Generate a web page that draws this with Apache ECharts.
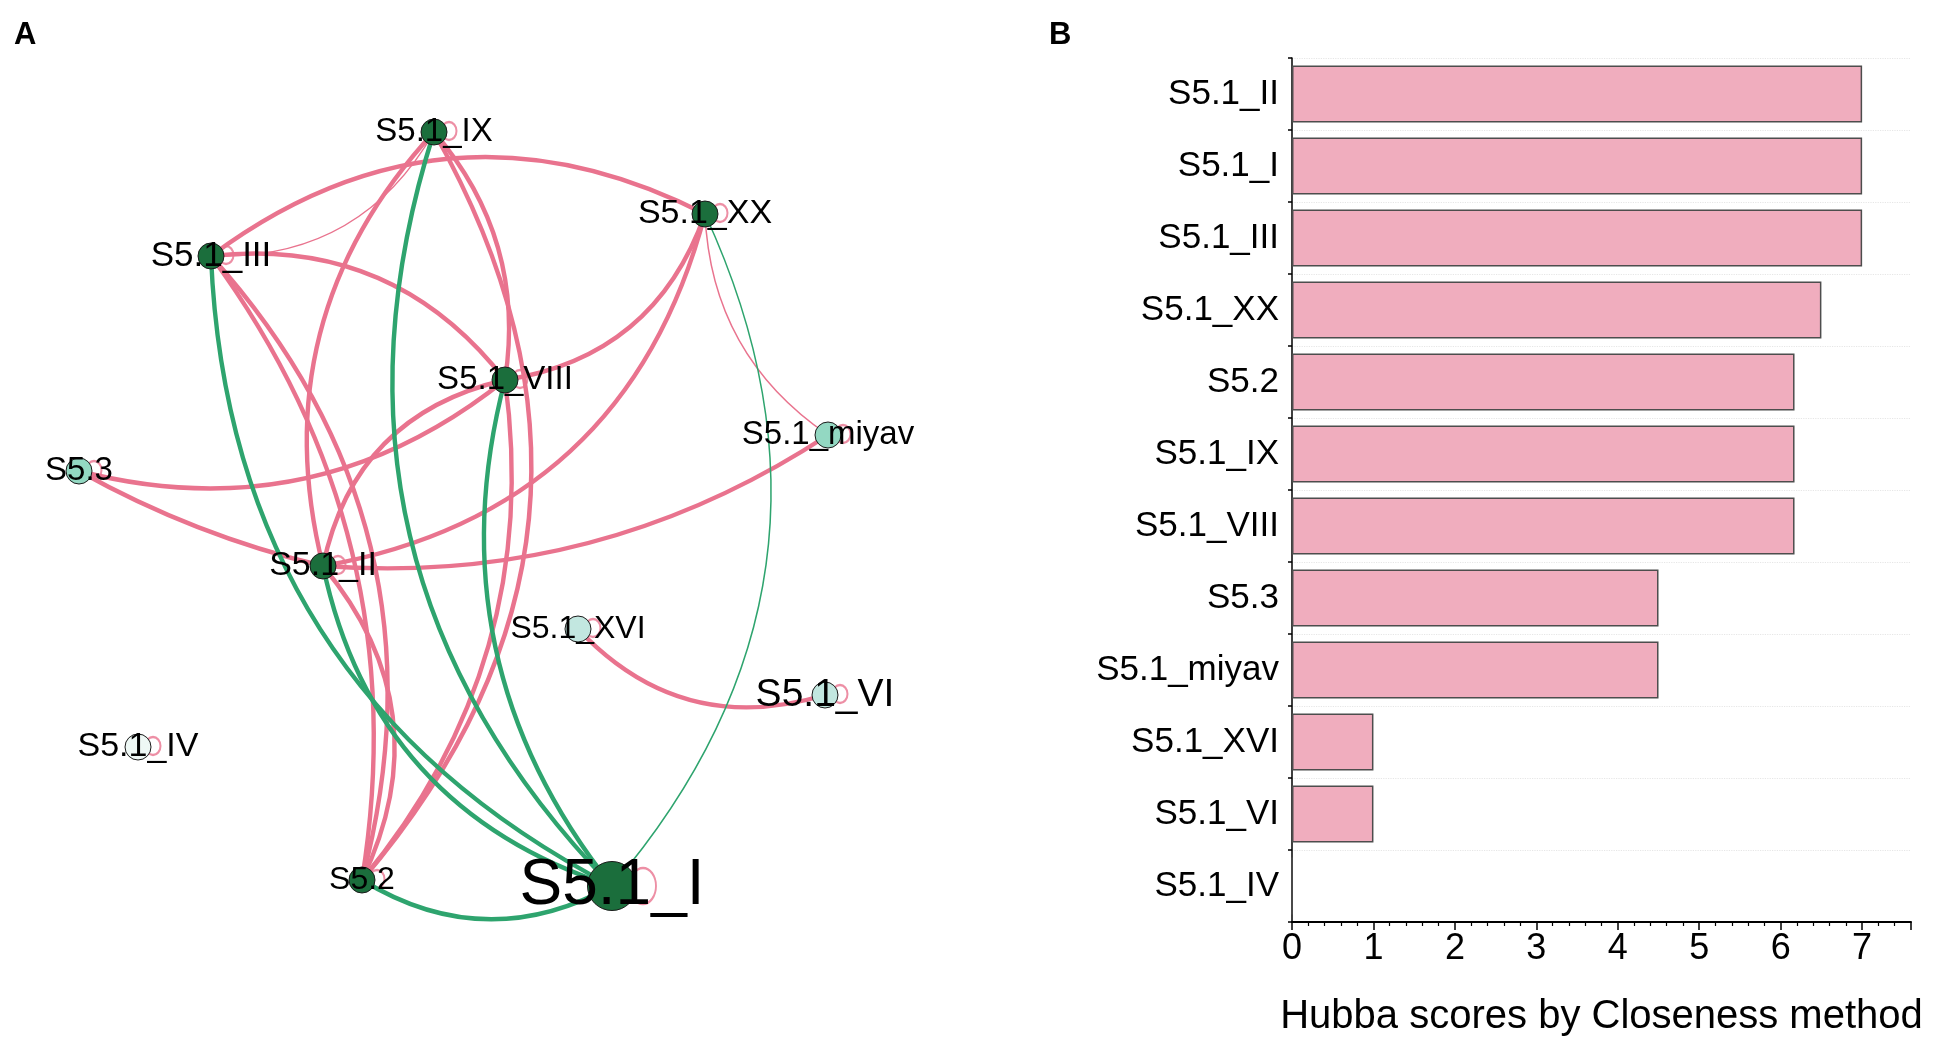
<!DOCTYPE html>
<html><head><meta charset="utf-8">
<script src="https://cdn.jsdelivr.net/npm/echarts@6/dist/echarts.min.js"></script>
<style>html,body{margin:0;padding:0;background:#fff}#c{width:1933px;height:1042px}</style>
</head><body><div id="c"></div>
<script>
// ---------- DATA ----------
// Panel B: Hubba scores (Closeness)
const categories = ['S5.1_II','S5.1_I','S5.1_III','S5.1_XX','S5.2','S5.1_IX','S5.1_VIII','S5.3','S5.1_miyav','S5.1_XVI','S5.1_VI','S5.1_IV'];
const scores = [7, 7, 7, 6.5, 6.17, 6.17, 6.17, 4.5, 4.5, 1, 1, 0];
const xTickValues = [0,1,2,3,4,5,6,7];

// Panel A: network nodes (layout) and edges
const nodeNames   = ['S5.1_IX','S5.1_XX','S5.1_III','S5.1_VIII','S5.1_miyav','S5.3','S5.1_II','S5.1_XVI','S5.1_VI','S5.1_IV','S5.2','S5.1_I'];
const nodeLayoutX = [434, 705, 211, 505, 828, 79, 323, 578, 825, 138, 362, 612];
const nodeLayoutY = [132, 214, 256, 380, 435, 471, 566, 629, 695, 747, 880, 886];
const nodeClass   = ['hub','hub','hub','hub','mid','mid','hub','low','low','none','hub','hub'];

const edgeSource = ['S5.1_III','S5.1_III','S5.1_III','S5.1_III','S5.1_III','S5.1_IX','S5.1_IX','S5.1_IX','S5.1_VIII','S5.1_VIII','S5.1_VIII','S5.1_VIII','S5.1_XX','S5.1_XX','S5.1_II','S5.1_II','S5.1_II','S5.1_XVI',
                    'S5.1_III','S5.1_II','S5.1_IX','S5.1_VIII','S5.1_XX','S5.2'];
const edgeTarget = ['S5.1_XX','S5.1_IX','S5.1_VIII','S5.2','S5.2','S5.1_II','S5.1_VIII','S5.2','S5.2','S5.3','S5.1_II','S5.1_XX','S5.1_II','S5.1_miyav','S5.3','S5.1_miyav','S5.2','S5.1_VI',
                    'S5.1_I','S5.1_I','S5.1_I','S5.1_I','S5.1_I','S5.1_I'];
const edgeKind   = ['p','p','p','p','p','p','p','p','p','p','p','p','p','p','p','p','p','p','g','g','g','g','g','g'];
const edgeWeight = [3,1,3,3,3,3,3,3,3,3,3,3,3,1,3,3,3,3,3,3,3,3,1,3];

// ---------- STYLE ----------
const PINK = '#e9738e', GREEN = '#2ea46e';
const edgeCurve = [0.31,-0.3,0.28,0.21,0.27,-0.27,0.23,0.35,0.22,0.25,-0.32,-0.3,0.32,-0.25,0.07,-0.17,0.32,-0.31,
                   -0.29,-0.29,-0.3,-0.25,0.32,-0.29];
const classFill = {hub:'#1b6e3c', mid:'#93d8c2', low:'#c2e7e0', none:'#eef8f5'};
const nodeSizeOf = {'S5.1_I':49};
const labelSizeOf = {'S5.1_IX':33,'S5.1_XX':34,'S5.1_III':35,'S5.1_VIII':33,'S5.1_miyav':33,'S5.3':33,'S5.1_II':34,'S5.1_XVI':32,'S5.1_VI':39,'S5.1_IV':34,'S5.2':32,'S5.1_I':64};
const FONT = 'Liberation Sans, Arial, sans-serif';

const nodes = nodeNames.map((n,i)=>({
  name:n, value:[nodeLayoutX[i], nodeLayoutY[i]],
  symbolSize: nodeSizeOf[n] || 26,
  itemStyle:{color: classFill[nodeClass[i]]},
  label:{fontSize: labelSizeOf[n]}
}));
const links = edgeSource.map((s,i)=>({
  source:s, target:edgeTarget[i],
  lineStyle:{color: edgeKind[i]==='p'?PINK:GREEN, width: edgeWeight[i]===3?4.4:1.5, curveness: edgeCurve[i], opacity:1}
}));
const loops = nodeNames.map((n,i)=>{
  const big = n==='S5.1_I';
  return {value:[nodeLayoutX[i], nodeLayoutY[i]], symbolSize: big?[26,36]:[15,18], symbolOffset: big?[31,0]:[15,-1]};
});

const chart = echarts.init(document.getElementById('c'), null, {renderer:'canvas'});
chart.setOption({
  animation:false,
  backgroundColor:'#fff',
  title:[
    {text:'A', left:14, top:20, padding:0, textStyle:{fontSize:31, fontWeight:'bold', fontFamily:FONT, color:'#000'}},
    {text:'B', left:1049, top:20, padding:0, textStyle:{fontSize:31, fontWeight:'bold', fontFamily:FONT, color:'#000'}}
  ],
  grid:[
    {left:0, top:0, width:966, height:1042},
    {left:1292, top:58, right:22, bottom:112}
  ],
  xAxis:[
    {gridIndex:0, type:'value', min:0, max:966, show:false},
    {gridIndex:1, type:'value', min:0, max:7.6, interval:1,
     name:'Hubba scores by Closeness method', nameLocation:'middle', nameGap:75,
     nameTextStyle:{fontSize:40, color:'#000', fontFamily:FONT},
     axisLine:{show:true, lineStyle:{color:'#000', width:2}},
     axisTick:{show:true, length:8, lineStyle:{color:'#000', width:1.5}},
     minorTick:{show:true, splitNumber:5, length:4, lineStyle:{color:'#000', width:1.2}},
     splitLine:{show:false},
     axisLabel:{fontSize:36, color:'#000', fontFamily:FONT, margin:9,
       formatter:(v)=> xTickValues.indexOf(v)>=0 ? String(v) : ''}}
  ],
  yAxis:[
    {gridIndex:0, type:'value', min:0, max:1042, inverse:true, show:false},
    {gridIndex:1, type:'category', data:categories, inverse:true,
     axisLine:{show:true, lineStyle:{color:'#000', width:1.5}},
     axisTick:{show:true, length:4, lineStyle:{color:'#000', width:1.5}},
     splitLine:{show:true, lineStyle:{color:'#e6e6e6', type:'dotted', width:1.2}},
     axisLabel:{fontSize:35, color:'#000', fontFamily:FONT, margin:13}}
  ],
  series:[
    {type:'scatter', xAxisIndex:0, yAxisIndex:0, z:1, silent:true, data:loops, symbol:'circle',
     itemStyle:{color:'rgba(0,0,0,0)', borderColor:PINK, borderWidth:2.2}},
    {type:'graph', coordinateSystem:'cartesian2d', xAxisIndex:0, yAxisIndex:0, z:3, silent:true,
     symbol:'circle', data:nodes, links:links,
     itemStyle:{borderColor:'#1a1a1a', borderWidth:1},
     label:{show:true, position:'inside', color:'#000', fontFamily:FONT, formatter:'{b}'},
     lineStyle:{opacity:1},
     emphasis:{disabled:true}},
    {type:'bar', xAxisIndex:1, yAxisIndex:1, data:scores, barCategoryGap:'21%', silent:true,
     itemStyle:{color:'#f0adbe', borderColor:'#4d4d4d', borderWidth:1.5}}
  ]
});
</script></body></html>
